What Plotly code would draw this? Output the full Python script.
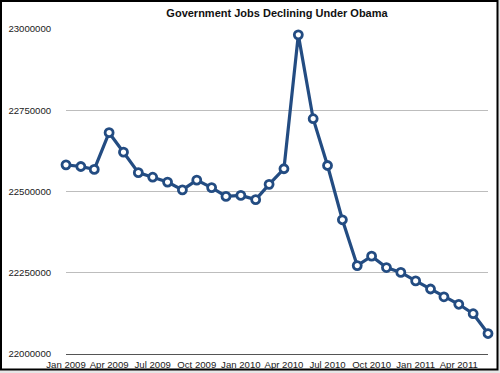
import plotly.graph_objects as go
import pandas as pd

months = pd.date_range("2009-01-01", periods=30, freq="MS")
jobs = [22582000, 22577000, 22568000, 22681000, 22621000, 22558000, 22544000, 22529000,
        22505000, 22535000, 22512000, 22485000, 22488000, 22475000, 22522000, 22570000,
        22982000, 22724000, 22580000, 22413000, 22272000, 22301000, 22266000, 22251000,
        22225000, 22200000, 22176000, 22153000, 22124000, 22063000]
y_ticks = [22000000, 22250000, 22500000, 22750000, 23000000]
x_tick_dates = pd.date_range("2009-01-01", periods=10, freq="3MS")
x_tick_labels = [d.strftime("%b %Y") for d in x_tick_dates]

W, H = 500, 373
L, R, T, B = 66, 12, 29, 19

fig = go.Figure()
fig.add_trace(go.Scatter(
    x=months, y=jobs, mode="lines+markers",
    line=dict(color="#234c82", width=3.2),
    marker=dict(size=8, color="white", line=dict(color="#234c82", width=2.8)),
    cliponaxis=False, showlegend=False,
))

fig.update_layout(
    width=W, height=H,
    margin=dict(l=L, r=R, t=T, b=B, pad=0, autoexpand=False),
    paper_bgcolor="white", plot_bgcolor="white",
    font=dict(family="Liberation Sans, Arial, sans-serif", color="#1a1a1a", size=10),
    title=dict(text="<b>Government Jobs Declining Under Obama</b>",
               x=277 / W, xanchor="center", y=1 - 13 / H, yanchor="middle",
               font=dict(size=11, color="#111111")),
    xaxis=dict(
        range=[months[0], months[-1]],
        tickvals=x_tick_dates, ticktext=x_tick_labels,
        showgrid=False, showline=True, linecolor="#555555", linewidth=1,
        ticks="outside", ticklen=1, tickcolor="rgba(0,0,0,0)",
        tickfont=dict(size=9.6), tickangle=0, automargin=False, zeroline=False,
    ),
    yaxis=dict(
        range=[22000000, 23000000],
        tickvals=y_ticks, ticktext=[str(v) for v in y_ticks],
        showgrid=True, gridcolor="#bdbdbd", gridwidth=1,
        showline=False, zeroline=False, automargin=False,
        ticks="outside", ticklen=12, tickcolor="rgba(0,0,0,0)",
        tickfont=dict(size=9.6),
    ),
)

pw = W - L - R
ph = H - T - B

def px_x(p):
    return (p - L) / pw

def px_y(p):
    return (H - B - p) / ph

# light grey strip outside the frame (bottom and right)
fig.add_shape(type="rect", xref="paper", yref="paper",
              x0=px_x(0), x1=px_x(500), y0=px_y(373), y1=px_y(370),
              fillcolor="#e6e6e6", line=dict(width=0), layer="below")
fig.add_shape(type="rect", xref="paper", yref="paper",
              x0=px_x(498), x1=px_x(500), y0=px_y(373), y1=px_y(0),
              fillcolor="#e6e6e6", line=dict(width=0), layer="below")
# black frame
fig.add_shape(type="rect", xref="paper", yref="paper",
              x0=px_x(1), x1=px_x(497.5), y0=px_y(369.5), y1=px_y(1),
              line=dict(color="black", width=2), layer="above")

fig.write_html("out.html", config={"displayModeBar": False},
               post_script="document.body.style.margin='0';document.body.style.overflow='hidden';")
